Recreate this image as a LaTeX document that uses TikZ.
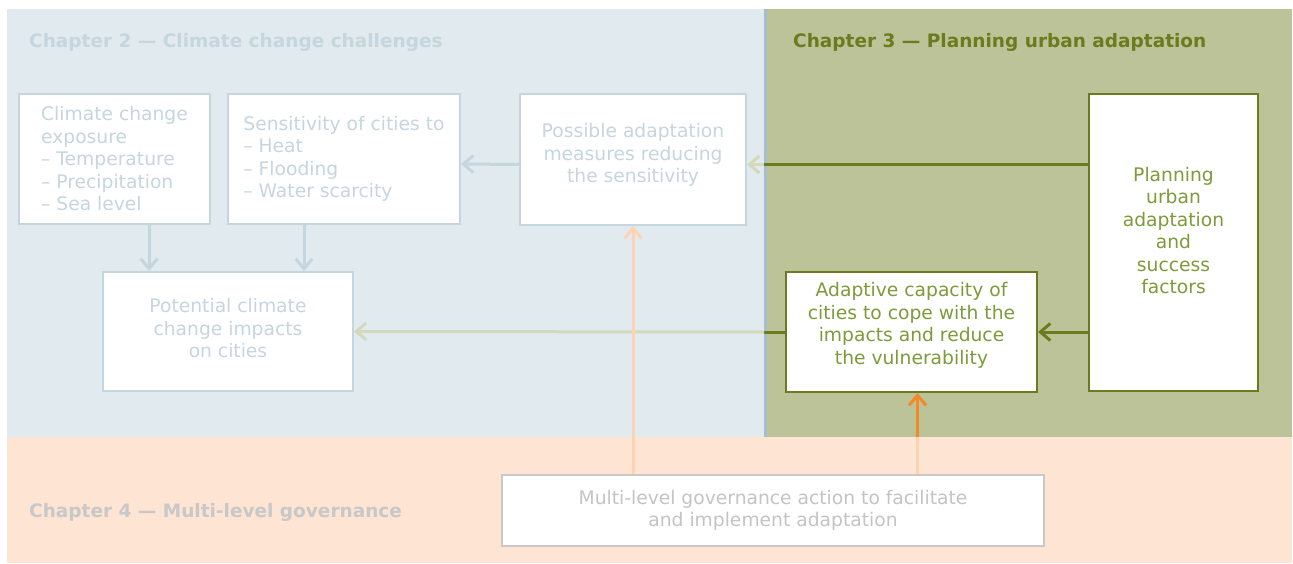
\documentclass[tikz,border=0pt]{standalone}
\usepackage{fontspec}
\setmainfont{DejaVu Sans}
\usetikzlibrary{arrows.meta}
\definecolor{bluebg}{HTML}{E1EAEE}
\definecolor{bluefg}{HTML}{C5D6DE}
\definecolor{olivebg}{HTML}{BDC398}
\definecolor{olivefg}{HTML}{6B7B1E}
\definecolor{olivetx}{HTML}{7D9B3A}
\definecolor{olivepale}{HTML}{D5D9BC}
\definecolor{peachbg}{HTML}{FDE4D3}
\definecolor{peachfg}{HTML}{FDD3B3}
\definecolor{orangefg}{HTML}{F28A2A}
\definecolor{greyfg}{HTML}{C8C8C8}
\definecolor{greytx}{HTML}{C4C4C4}
\definecolor{divider}{HTML}{A3BFCF}

\begin{document}
\begin{tikzpicture}[x=1pt, y=-1pt,
  box/.style={draw, fill=white, line width=2pt, anchor=north west, inner ysep=0pt,
    font=\fontsize{18.7}{22.5}\selectfont},
  tip/.style={line width=3pt, -{Straight Barb[length=10pt,width=17pt]}},
  plain/.style={line width=3pt},
  title/.style={anchor=base west, inner sep=0pt, font=\fontsize{18.5}{22}\selectfont\bfseries}]
  % panels
  \fill[white]    (0,0)     rectangle (1293,564);
  \fill[bluebg]   (7,9)     rectangle (765,437);
  \fill[olivebg]  (765,9)   rectangle (1292,437);
  \fill[peachbg]  (7,437)   rectangle (1292,563);
  \draw[divider, line width=3.5pt] (765.5,9) -- (765.5,437);
  \node[title, text=bluefg]   (ch2) at (29,48)   {Chapter 2 — Climate change challenges};
  \node[title, text=olivefg]  (ch3) at (793,48)  {Chapter 3 — Planning urban adaptation};
  \node[title, text=greyfg]   (ch4) at (29,517)  {Chapter 4 — Multi-level governance};

  % boxes
  \node[box, draw=bluefg, text=bluefg, minimum width=191pt, minimum height=130pt, align=left]
    (expo) at (18,93) {Climate change\\exposure\\– Temperature\\– Precipitation\\– Sea level};
  \node[box, draw=bluefg, text=bluefg, minimum width=232pt, minimum height=130pt, align=left]
    (sens) at (227,93) {Sensitivity of cities to\\– Heat\\– Flooding\\– Water scarcity};
  \node[box, draw=bluefg, text=bluefg, minimum width=226pt, minimum height=131pt, align=center, text depth=13pt]
    (poss) at (519,93) {Possible adaptation\\measures reducing\\the sensitivity};
  \node[box, draw=bluefg, text=bluefg, minimum width=250pt, minimum height=119pt, align=center, text depth=7pt]
    (pot) at (102,271) {Potential climate\\change impacts\\on cities};
  \node[box, draw=olivefg, text=olivetx, minimum width=251pt, minimum height=120pt, align=center, text depth=17pt]
    (adapt) at (785,271) {Adaptive capacity of\\cities to cope with the\\impacts and reduce\\the vulnerability};
  \node[box, draw=olivefg, text=olivetx, minimum width=169pt, minimum height=297pt, align=center, text depth=24pt]
    (plan) at (1088,93) {Planning\\urban\\adaptation\\and\\success\\factors};
  \node[box, draw=greyfg, text=greytx, minimum width=542pt, minimum height=71pt, align=center]
    (multi) at (501,474) {Multi-level governance action to facilitate\\and implement adaptation};

  % connectors
  \coordinate (cut)   at (764,0);
  \coordinate (seam)  at (0,437);
  \coordinate (lineA) at ([yshift=-5pt]poss.east);
  \coordinate (lineB) at ([xshift=6pt]adapt.south);
  \draw[tip, bluefg] ([yshift=-5pt]poss.west) -- ([yshift=-5pt]sens.east);
  \draw[tip, bluefg] ([xshift=131pt]expo.south west) -- ([xshift=131pt]expo.south west |- pot.north);
  \draw[tip, bluefg] ([xshift=77pt]sens.south west) -- ([xshift=77pt]sens.south west |- pot.north);
  \draw[plain, olivefg] (plan.west |- lineA) -- (cut |- lineA);
  \draw[tip, olivepale] (cut |- lineA) -- (lineA);
  \draw[tip, olivefg] (plan.west |- adapt.east) -- (adapt.east);
  \draw[plain, olivefg] (adapt.west) -- (cut |- adapt.west);
  \draw[tip, olivepale] (cut |- adapt.west) -- (pot.east);
  \draw[tip, peachfg] (multi.north -| poss.south) -- (poss.south);
  \draw[plain, peachfg] (multi.north -| lineB) -- (seam -| lineB);
  \draw[tip, orangefg] (seam -| lineB) -- (lineB);
\end{tikzpicture}
\end{document}
